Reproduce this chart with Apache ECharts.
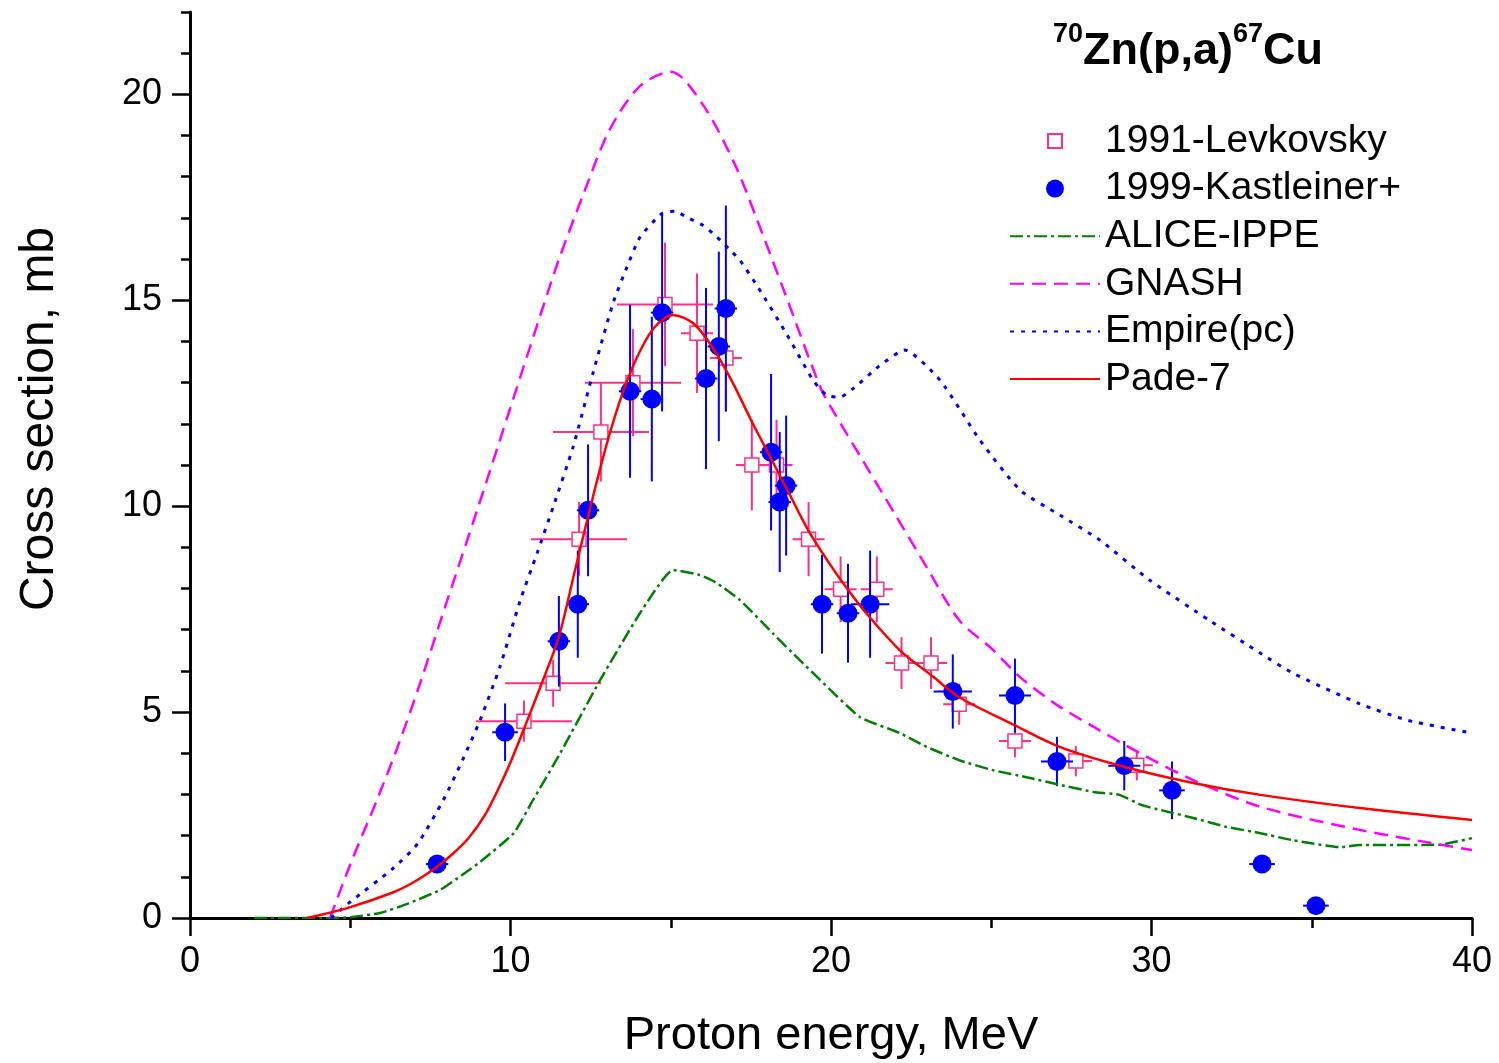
<!DOCTYPE html>
<html>
<head>
<meta charset="utf-8">
<title>70Zn(p,a)67Cu</title>
<script src="https://cdn.jsdelivr.net/npm/echarts@6/dist/echarts.min.js"></script>
<style>
  html, body { margin: 0; padding: 0; background: #fff; }
  #chart { width: 1499px; height: 1063px; }
</style>
</head>
<body>
<div id="chart"></div>
<script>
// tick values
const xMajorTicks = [0, 10, 20, 30, 40];
const xMinorTicks = [5, 15, 25, 35];
const yMajorTicks = [0, 5, 10, 15, 20];
const yMinorTicks = [1, 2, 3, 4, 6, 7, 8, 9, 11, 12, 13, 14, 16, 17, 18, 19, 21, 22];

// 1991-Levkovsky (open squares)
const levX  = [10.42, 11.33, 12.14, 12.82, 13.82, 14.82, 15.82, 16.72, 17.53, 18.3, 19.3, 20.3, 21.43, 22.2, 23.12, 24.0, 25.74, 27.64, 29.54];
const levY  = [4.78, 5.7, 9.2, 11.8, 13.0, 14.9, 14.2, 13.6, 11.0, 11.0, 9.2, 7.98, 7.98, 6.19, 6.19, 5.19, 4.3, 3.81, 3.71];
const levDx = [1.5, 1.5, 1.5, 1.5, 1.5, 1.5, 0.5, 0.5, 0.5, 0.5, 0.5, 0.5, 0.5, 0.5, 0.5, 0.5, 0.5, 0.5, 0.5];
const levDy = [0.5, 0.57, 0.9, 1.2, 1.3, 1.5, 1.45, 1.3, 1.1, 1.1, 0.9, 0.8, 0.8, 0.63, 0.63, 0.5, 0.4, 0.37, 0.37];

// 1999-Kastleiner+ (filled circles)
const kasX  = [7.71, 9.83, 11.51, 12.1, 12.42, 13.73, 14.41, 14.73, 16.1, 16.5, 16.72, 18.13, 18.4, 18.6, 19.72, 20.53, 21.22, 23.8, 25.74, 27.05, 29.15, 30.64, 33.45, 35.13];
const kasY  = [1.31, 4.51, 6.72, 7.62, 9.9, 12.79, 12.6, 14.7, 13.1, 13.88, 14.8, 11.31, 10.1, 10.5, 7.62, 7.4, 7.62, 5.5, 5.4, 3.8, 3.7, 3.1, 1.31, 0.3];
const kasDx = [0.35, 0.4, 0.35, 0.35, 0.35, 0.35, 0.35, 0.35, 0.35, 0.35, 0.35, 0.35, 0.35, 0.35, 0.35, 0.35, 0.6, 0.6, 0.5, 0.5, 0.5, 0.4, 0.4, 0.4];
const kasDy = [0.1, 0.7, 1.1, 1.3, 1.6, 2.1, 2.0, 2.4, 2.2, 2.3, 2.5, 1.9, 1.7, 1.7, 1.2, 1.2, 1.3, 0.9, 0.9, 0.6, 0.6, 0.7, 0.1, 0.05];

// model curves, [energy, cross section]
const alice = [[2.0, 0], [4.5, 0], [5.0, 0.02], [5.93, 0.12], [6.8, 0.35], [7.8, 0.68], [8.5, 1.05], [9.05, 1.36], [10.1, 2.06], [10.7, 2.86],
  [11.55, 4.0], [12.8, 5.78], [14.04, 7.4], [15.07, 8.45], [15.9, 8.33], [16.4, 8.15], [17.16, 7.72], [18.2, 6.9], [19.03, 6.26], [19.66, 5.78],
  [20.9, 4.88], [22.15, 4.49], [23.0, 4.15], [24.0, 3.83], [25.05, 3.59], [26.1, 3.42], [27.15, 3.23], [28.2, 3.06], [29.0, 2.99], [29.7, 2.74],
  [30.3, 2.62], [31.3, 2.43], [32.35, 2.21], [33.4, 2.06], [34.4, 1.89], [35.9, 1.72], [36.5, 1.77], [39.0, 1.78], [40.0, 1.94]];
const gnash = [[4.37, 0], [5.0, 1.3], [5.83, 2.86], [6.5, 4.2], [7.18, 5.7], [8.0, 7.65], [9.0, 10.0], [10.0, 12.4], [11.0, 14.8], [11.5, 15.97],
  [12.32, 17.67], [13.1, 19.15], [14.04, 20.2], [15.0, 20.55], [16.0, 19.75], [17.0, 18.3], [17.72, 16.9], [18.5, 15.3], [19.66, 12.9], [20.0, 12.4],
  [21.0, 11.1], [22.0, 9.8], [23.0, 8.5], [24.0, 7.23], [25.0, 6.55], [25.9, 5.85], [27.0, 5.2], [28.2, 4.64], [29.64, 4.0], [31.3, 3.35],
  [33.4, 2.7], [36.5, 2.14], [40.0, 1.65]];
const empire = [[4.4, 0], [5.0, 0.39], [6.33, 1.2], [7.1, 1.8], [7.9, 2.86], [8.5, 3.83], [9.05, 4.8], [9.67, 6.1], [10.3, 7.7], [10.83, 8.86],
  [11.33, 9.98], [11.95, 11.43], [12.58, 13.25], [13.2, 14.93], [13.63, 15.8], [14.04, 16.53], [14.73, 17.11], [15.13, 17.16], [15.54, 17.0],
  [16.0, 16.82], [16.38, 16.58], [16.8, 16.26], [17.16, 15.97], [17.72, 15.32], [18.6, 14.2], [19.44, 13.06], [19.87, 12.69], [20.28, 12.65],
  [20.7, 12.86], [21.5, 13.4], [22.3, 13.79], [23.4, 13.06], [24.65, 11.6], [25.9, 10.39], [27.15, 9.78], [28.4, 9.17], [29.95, 8.2],
  [31.8, 7.23], [33.4, 6.43], [34.4, 5.95], [36.5, 5.2], [38.0, 4.8], [40.0, 4.49]];
const pade = [[3.65, 0], [4.9, 0.24], [6.33, 0.62], [7.0, 0.88], [7.7, 1.24], [8.2, 1.56], [8.7, 1.95], [9.2, 2.5], [9.6, 3.1], [10.0, 3.78],
  [10.5, 4.75], [11.0, 5.75], [11.5, 6.8], [12.0, 8.4], [12.5, 10.0], [13.0, 11.5], [13.5, 12.75], [14.0, 13.7], [14.5, 14.35], [15.07, 14.64],
  [15.7, 14.44], [16.3, 13.86], [16.9, 13.05], [17.5, 12.1], [18.1, 11.2], [18.7, 10.3], [19.3, 9.4], [20.0, 8.55], [20.5, 8.0], [21.1, 7.4],
  [22.15, 6.5], [23.2, 5.85], [24.0, 5.36], [25.6, 4.73], [27.15, 4.15], [29.2, 3.66], [31.3, 3.28], [33.4, 2.99], [36.5, 2.67], [40.0, 2.38]];

const FONT = '"Liberation Sans", Arial, sans-serif';
const PINK = '#ff2f86';
const BLUE = '#0000ff';

function zipErr(xs, ys, dxs, dys) {
  return xs.map((x, i) => [x, ys[i], dxs[i], dys[i]]);
}

function errRender(color) {
  return function (params, api) {
    const x = api.value(0), y = api.value(1), dx = api.value(2), dy = api.value(3);
    const c = api.coord([x, y]);
    const top = api.coord([x, y + dy]);
    const bot = api.coord([x, y - dy]);
    const l = api.coord([x - dx, y]);
    const r = api.coord([x + dx, y]);
    const style = { stroke: color, lineWidth: 2 };
    return {
      type: 'group',
      children: [
        { type: 'line', shape: { x1: c[0], y1: top[1], x2: c[0], y2: bot[1] }, style },
        { type: 'line', shape: { x1: l[0], y1: c[1], x2: r[0], y2: c[1] }, style }
      ]
    };
  };
}

const chart = echarts.init(document.getElementById('chart'));

const noDot = { opacity: 0 };

const option = {
  animation: false,
  backgroundColor: '#ffffff',
  textStyle: { fontFamily: FONT, color: '#000' },
  title: {
    text: '{s|70}{b|Zn(p,a)}{s|67}{b|Cu}',
    left: 1048,
    top: 16,
    textStyle: {
      rich: {
        b: { fontSize: 45, fontWeight: 'bold', fontFamily: FONT, color: '#000', lineHeight: 62 },
        s: { fontSize: 27, fontWeight: 'bold', fontFamily: FONT, color: '#000', lineHeight: 20, verticalAlign: 'top' }
      }
    }
  },
  legend: {
    orient: 'vertical',
    left: 1004,
    top: 116,
    itemWidth: 90,
    itemHeight: 18,
    itemGap: 7.6,
    selectedMode: false,
    textStyle: { fontSize: 39, fontFamily: FONT, color: '#000', lineHeight: 40 },
    data: [
      { name: '1991-Levkovsky', icon: 'path://M0,0M18,18M2,2L16,2L16,16L2,16Z' },
      { name: '1999-Kastleiner+' },
      { name: 'ALICE-IPPE', itemStyle: noDot },
      { name: 'GNASH', itemStyle: noDot },
      { name: 'Empire(pc)', itemStyle: noDot },
      { name: 'Pade-7', itemStyle: noDot }
    ]
  },
  grid: { left: 190, right: 27, top: 12, bottom: 145, outerBoundsMode: 'none', containLabel: false },
  xAxis: [
    {
      type: 'value', min: 0, max: 40, position: 'bottom',
      axisLine: { lineStyle: { color: '#000', width: 3 } },
      axisTick: { customValues: xMajorTicks, length: 18, lineStyle: { color: '#000', width: 2.5 } },
      axisLabel: { customValues: xMajorTicks, fontSize: 36, color: '#000', margin: 26 },
      splitLine: { show: false },
      name: 'Proton energy, MeV', nameLocation: 'middle', nameGap: 95,
      nameTextStyle: { fontSize: 47, color: '#000' }
    },
    {
      type: 'value', min: 0, max: 40, position: 'bottom',
      axisLine: { show: false },
      axisTick: { customValues: xMinorTicks, length: 10, lineStyle: { color: '#000', width: 2.5 } },
      axisLabel: { show: false },
      splitLine: { show: false }
    }
  ],
  yAxis: [
    {
      type: 'value', min: 0, max: 22, position: 'left',
      axisLine: { show: true, lineStyle: { color: '#000', width: 3 } },
      axisTick: { show: true, customValues: yMajorTicks, length: 18, lineStyle: { color: '#000', width: 2.5 } },
      axisLabel: { customValues: yMajorTicks, fontSize: 36, color: '#000', margin: 28 },
      splitLine: { show: false },
      name: 'Cross section, mb', nameLocation: 'middle', nameGap: 126,
      nameTextStyle: { fontSize: 48, color: '#000', padding: [0, 0, 0, 92] }
    },
    {
      type: 'value', min: 0, max: 22, position: 'left',
      axisLine: { show: false },
      axisTick: { show: true, customValues: yMinorTicks, length: 9, lineStyle: { color: '#000', width: 2.5 } },
      axisLabel: { show: false },
      splitLine: { show: false }
    }
  ],
  series: [
    {
      name: 'lev-err', type: 'custom', z: 2,
      renderItem: errRender(PINK),
      encode: { x: 0, y: 1 },
      data: zipErr(levX, levY, levDx, levDy)
    },
    {
      name: '1991-Levkovsky', type: 'scatter', z: 3,
      symbol: 'rect', symbolSize: 14,
      itemStyle: { color: '#ffffff', borderColor: PINK, borderWidth: 1.5, opacity: 1 },
      data: levX.map((x, i) => [x, levY[i]])
    },
    {
      name: 'kas-err', type: 'custom', z: 4,
      renderItem: errRender(BLUE),
      encode: { x: 0, y: 1 },
      data: zipErr(kasX, kasY, kasDx, kasDy)
    },
    {
      name: '1999-Kastleiner+', type: 'scatter', z: 5,
      symbol: 'circle', symbolSize: 19,
      itemStyle: { color: BLUE, opacity: 1 },
      data: kasX.map((x, i) => [x, kasY[i]])
    },
    {
      name: 'ALICE-IPPE', type: 'line', z: 6, showSymbol: false, symbol: 'none', smooth: 0.15,
      lineStyle: { color: '#008000', width: 2.5, type: [13, 4, 3, 4] },
      itemStyle: { color: '#008000' },
      data: alice
    },
    {
      name: 'GNASH', type: 'line', z: 6, showSymbol: false, symbol: 'none', smooth: 0.3,
      lineStyle: { color: '#ff00ff', width: 2.5, type: [14, 8] },
      itemStyle: { color: '#ff00ff' },
      data: gnash
    },
    {
      name: 'Empire(pc)', type: 'line', z: 6, showSymbol: false, symbol: 'none', smooth: 0.2,
      lineStyle: { color: BLUE, width: 3, type: [4, 7] },
      itemStyle: { color: BLUE },
      data: empire
    },
    {
      name: 'Pade-7', type: 'line', z: 7, showSymbol: false, symbol: 'none', smooth: 0.3,
      lineStyle: { color: '#ff0000', width: 2.5 },
      itemStyle: { color: '#ff0000' },
      data: pade
    }
  ]
};

chart.setOption(option);
</script>
</body>
</html>
